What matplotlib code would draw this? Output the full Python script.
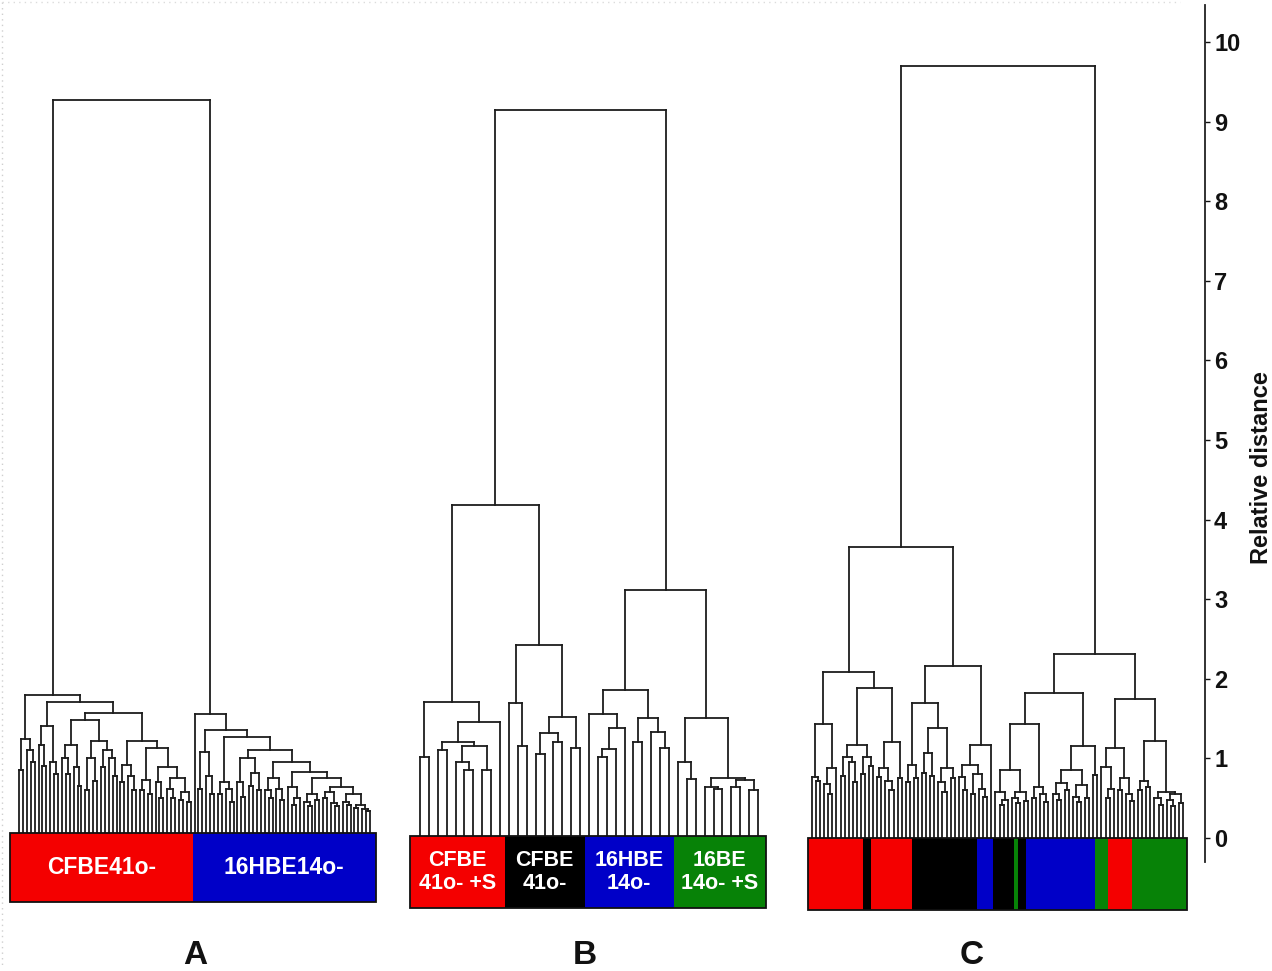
import numpy as np
import matplotlib
matplotlib.use("Agg")
import matplotlib.pyplot as plt
from matplotlib.collections import LineCollection
from matplotlib.patches import Rectangle

plt.rcParams["font.family"] = ["Liberation Sans", "DejaVu Sans"]
plt.rcParams["font.weight"] = "bold"

# ---------------------------------------------------------------
# Dendrograms: a node is [merge height, left, right]; a leaf is 0.
# ---------------------------------------------------------------
# Panel A: CFBE41o- branch
A_L1 = [1.25, [0.85, 0, 0], [1.10, 0, [0.95, 0, 0]]]
A_L2 = [1.41, [1.17, 0, [0.90, 0, 0]], [0.96, 0, [0.80, 0, 0]]]
A_L3 = [1.48,
        [1.17, [1.00, 0, [0.80, 0, 0]], [0.89, 0, [0.65, 0, 0]]],
        [1.22, [1.00, [0.60, 0, 0], [0.72, 0, 0]],
         [1.10, [0.89, 0, 0], [1.00, 0, [0.78, 0, 0]]]]]
A_L4_TAIL = [0.89,
             [0.70, 0, [0.50, 0, 0]],
             [0.76, [0.62, 0, [0.50, 0, 0]], [0.58, [0.48, 0, 0], [0.45, 0, 0]]]]
A_L4 = [1.22,
        [0.92, [0.70, 0, 0], [0.78, 0, [0.60, 0, 0]]],
        [1.13, [0.73, [0.60, 0, 0], [0.55, 0, 0]], A_L4_TAIL]]
A_LEFT = [1.80, A_L1, [1.71, A_L2, [1.57, A_L3, A_L4]]]

# Panel A: 16HBE14o- branch (staircase towards the right)
A_R9 = [0.55, [0.45, 0, [0.42, 0, 0]], [0.42, [0.38, 0, 0], [0.36, 0, [0.34, 0, 0]]]]
A_R8 = [0.64, [0.58, [0.50, 0, 0], [0.44, 0, [0.40, 0, 0]]], A_R9]
A_R7 = [0.75, [0.55, [0.45, 0, [0.40, 0, 0]], [0.48, 0, 0]], A_R8]
A_R6 = [0.83, [0.64, 0, [0.50, [0.42, 0, 0], 0]], A_R7]
A_R5 = [0.95, [0.75, [0.60, 0, [0.50, 0, 0]], [0.62, 0, [0.48, 0, 0]]], A_R6]
A_R4 = [1.11, [1.00, [0.70, 0, [0.52, 0, 0]], [0.82, [0.65, 0, 0], [0.60, 0, 0]]], A_R5]
A_R3 = [1.27, [0.70, [0.55, 0, 0], [0.62, 0, [0.45, 0, 0]]], A_R4]
A_R2 = [1.36, [1.08, [0.62, 0, 0], [0.78, 0, [0.55, 0, 0]]], A_R3]
A_RIGHT = [1.56, 0, A_R2]

A_TREE = [9.27, A_LEFT, A_RIGHT]

# Panel B
B_LL = [1.71, [1.02, 0, 0],
        [1.46,
         [1.21, [1.10, 0, 0], [1.15, [0.95, 0, [0.85, 0, 0]], [0.85, 0, 0]]],
         0]]
B_LR = [2.42,
        [1.70, 0, [1.15, 0, 0]],
        [1.52, [1.32, [1.05, 0, 0], [1.20, 0, 0]], [1.13, 0, 0]]]
B_RL = [1.86,
        [1.56, 0, [1.38, [1.12, [1.02, 0, 0], 0], 0]],
        [1.51, [1.21, 0, 0], [1.33, 0, [1.13, 0, 0]]]]
B_RR = [1.51,
        [0.95, 0, [0.74, 0, 0]],
        [0.76, [0.64, 0, [0.62, 0, 0]], [0.73, [0.64, 0, 0], [0.60, 0, 0]]]]
B_TREE = [9.15, [4.18, B_LL, B_LR], [3.12, B_RL, B_RR]]

# Panel C
C_LL = [2.09,
        [1.43, [0.77, 0, [0.72, 0, 0]], [0.88, [0.68, 0, [0.55, 0, 0]], 0]],
        [1.88,
         [1.17, [1.02, [0.78, 0, 0], [0.95, 0, [0.70, 0, 0]]],
          [1.02, [0.80, 0, 0], [0.90, 0, 0]]],
         [1.21, [0.88, [0.77, 0, 0], [0.72, 0, [0.60, 0, 0]]], [0.75, 0, 0]]]]
C_LR = [2.16,
        [1.70,
         [0.92, [0.70, 0, 0], [0.75, 0, 0]],
         [1.38, [1.07, [0.82, 0, 0], [0.78, 0, 0]],
          [0.88, [0.70, 0, [0.58, 0, 0]], [0.75, 0, 0]]]],
        [1.17,
         [0.92, [0.77, 0, [0.60, 0, 0]],
          [0.80, [0.55, 0, 0], [0.62, 0, [0.52, 0, 0]]]],
         0]]
C_RL = [1.82,
        [1.43,
         [0.85, [0.58, 0, [0.48, [0.42, 0, 0], 0]],
          [0.58, [0.50, 0, [0.44, 0, 0]], [0.46, 0, 0]]],
         [0.64, [0.50, 0, 0], [0.55, 0, [0.45, 0, 0]]]],
        [1.16,
         [0.85, [0.69, [0.55, 0, [0.48, 0, 0]], [0.60, 0, 0]],
          [0.66, [0.52, 0, [0.45, 0, 0]], [0.50, 0, 0]]],
         [0.79, 0, 0]]]
C_RR = [1.75,
        [1.13, [0.89, 0, [0.62, [0.50, 0, 0], 0]],
         [0.75, [0.60, 0, 0], [0.55, 0, [0.46, 0, 0]]]],
        [1.22, [0.71, [0.60, 0, 0], [0.64, 0, 0]],
         [0.58, [0.50, 0, [0.42, 0, 0]],
          [0.55, [0.48, 0, [0.40, 0, 0]], [0.44, 0, 0]]]]]
C_TREE = [9.70, [3.66, C_LL, C_LR], [2.31, C_RL, C_RR]]

# Cell line of each leaf, as runs in leaf order
A_RUNS = [("R", 45), ("B", 46)]
B_RUNS = [("R", 10), ("K", 9), ("B", 10), ("G", 10)]
C_RUNS = [("R", 13), ("K", 2), ("R", 10), ("K", 16), ("B", 4), ("K", 5),
          ("G", 1), ("K", 2), ("B", 17), ("G", 3), ("R", 6), ("G", 13)]

A_LABELS = ["CFBE41o-", "16HBE14o-"]
B_LABELS = ["CFBE\n41o- +S", "CFBE\n41o-", "16HBE\n14o-", "16BE\n14o- +S"]
C_LABELS = None

PANEL_LETTERS = ["A", "B", "C"]
DIST_TICKS = [0, 1, 2, 3, 4, 5, 6, 7, 8, 9, 10]

COLORS = {"R": "#f40000", "K": "#000000", "B": "#0000c8", "G": "#078207"}

# ---------------------------------------------------------------
W, H = 1272, 971
Y0, PX_PER_UNIT = 838.0, 79.6          # baseline pixel row, pixels per distance unit


def h_of(py):
    return (Y0 - py) / PX_PER_UNIT


def n_leaves(node):
    if not isinstance(node, list):
        return 1
    return n_leaves(node[1]) + n_leaves(node[2])


def build(node, xs, segs):
    if not isinstance(node, list):
        return next(xs), 0.0
    h, a, b = node
    xa, ha = build(a, xs, segs)
    xb, hb = build(b, xs, segs)
    segs.append([(xa, ha), (xa, h)])
    segs.append([(xb, hb), (xb, h)])
    segs.append([(xa, h), (xb, h)])
    return 0.5 * (xa + xb), h


fig = plt.figure(figsize=(W / 100, H / 100), dpi=100)
ax = fig.add_axes([0, 0, 1, 1])
ax.set_xlim(0, W)
ax.set_ylim(h_of(H), h_of(0))
ax.axis("off")

panels = [
    dict(tree=A_TREE, runs=A_RUNS, labels=A_LABELS, leaves=(19, 370),
         bar=(10, 376, 833, 902), letter_x=195, fs=16.5),
    dict(tree=B_TREE, runs=B_RUNS, labels=B_LABELS, leaves=(420, 758),
         bar=(410, 766, 836, 908), letter_x=585, fs=15.5),
    dict(tree=C_TREE, runs=C_RUNS, labels=C_LABELS, leaves=(812, 1183),
         bar=(808, 1187, 838, 910), letter_x=972, fs=14),
]

for p, letter in zip(panels, PANEL_LETTERS):
    n = n_leaves(p["tree"])
    xs = np.linspace(p["leaves"][0], p["leaves"][1], n)
    segs = []
    build(p["tree"], iter(xs), segs)
    ax.add_collection(LineCollection(segs, colors="#1c1c1c", linewidths=1.3,
                                     capstyle="projecting", zorder=2))

    bx0, bx1, by0, by1 = p["bar"]
    top, bot = h_of(by0), h_of(by1)
    # colour cells, split midway between neighbouring leaves of different lines
    start = 0
    edges = []
    for code, cnt in p["runs"]:
        end = start + cnt
        left = bx0 if start == 0 else 0.5 * (xs[start - 1] + xs[start])
        right = bx1 if end >= n else 0.5 * (xs[end - 1] + xs[end])
        ax.add_patch(Rectangle((left, bot), right - left, top - bot,
                               facecolor=COLORS[code], edgecolor="none", zorder=3))
        edges.append((left, right))
        start = end
    ax.add_patch(Rectangle((bx0, bot), bx1 - bx0, top - bot, facecolor="none",
                           edgecolor="#111111", linewidth=1.3, zorder=4))
    if p["labels"]:
        for (l, r), txt in zip(edges, p["labels"]):
            ax.text(0.5 * (l + r), 0.5 * (top + bot), txt, ha="center", va="center",
                    color="white", fontsize=p["fs"], fontweight="bold",
                    linespacing=1.15, zorder=5)
    ax.text(p["letter_x"], h_of(955), letter, ha="center", va="center",
            fontsize=24, fontweight="bold", color="#111111")

# faint dotted page edge
ax.plot([1.5, 1.5], [h_of(2), h_of(968)], ls=(0, (1, 3)), color="#cfcfcf", lw=1)
ax.plot([1.5, 1180], [h_of(2), h_of(2)], ls=(0, (1, 3)), color="#dcdcdc", lw=1)

# distance scale on the right
ax2 = fig.add_axes([1204 / W, (H - 862) / H, 1 / W, (862 - 5) / H])
ax2.set_ylim(h_of(862), h_of(5))
ax2.set_xticks([])
for s in ("left", "top", "bottom"):
    ax2.spines[s].set_visible(False)
ax2.spines["right"].set_linewidth(1.3)
ax2.spines["right"].set_color("#222222")
ax2.yaxis.tick_right()
ax2.set_yticks(DIST_TICKS)
ax2.set_yticklabels([str(t) for t in DIST_TICKS], fontsize=17, fontweight="bold")
ax2.tick_params(axis="y", direction="out", length=3.5, width=1.0, pad=3,
                colors="#111111")
ax2.patch.set_visible(False)

fig.text(1262 / W, 1 - 468 / H, "Relative distance", rotation=90, ha="center",
         va="center", fontsize=17, fontweight="bold", color="#111111")

fig.savefig("out.png", dpi=100)
